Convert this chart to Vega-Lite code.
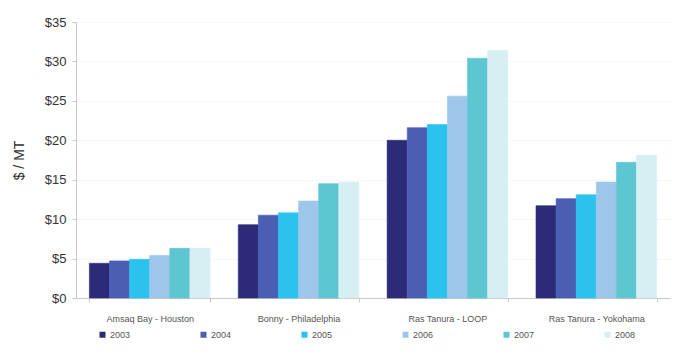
{
  "$schema": "https://vega.github.io/schema/vega-lite/v6.json",
  "width": 594,
  "height": 276,
  "autosize": {"type": "none"},
  "padding": {"left": 76, "top": 22, "right": 13, "bottom": 59},
  "background": "white",
  "config": {"view": {"stroke": null}, "font": "Liberation Sans"},
  "data": {"values": [
    {"route": "Amsaq Bay - Houston", "year": "2003", "cost": 4.4},
    {"route": "Amsaq Bay - Houston", "year": "2004", "cost": 4.7},
    {"route": "Amsaq Bay - Houston", "year": "2005", "cost": 4.9},
    {"route": "Amsaq Bay - Houston", "year": "2006", "cost": 5.4},
    {"route": "Amsaq Bay - Houston", "year": "2007", "cost": 6.3},
    {"route": "Amsaq Bay - Houston", "year": "2008", "cost": 6.3},
    {"route": "Bonny - Philadelphia", "year": "2003", "cost": 9.3},
    {"route": "Bonny - Philadelphia", "year": "2004", "cost": 10.5},
    {"route": "Bonny - Philadelphia", "year": "2005", "cost": 10.8},
    {"route": "Bonny - Philadelphia", "year": "2006", "cost": 12.3},
    {"route": "Bonny - Philadelphia", "year": "2007", "cost": 14.5},
    {"route": "Bonny - Philadelphia", "year": "2008", "cost": 14.7},
    {"route": "Ras Tanura - LOOP", "year": "2003", "cost": 20.0},
    {"route": "Ras Tanura - LOOP", "year": "2004", "cost": 21.6},
    {"route": "Ras Tanura - LOOP", "year": "2005", "cost": 22.0},
    {"route": "Ras Tanura - LOOP", "year": "2006", "cost": 25.6},
    {"route": "Ras Tanura - LOOP", "year": "2007", "cost": 30.4},
    {"route": "Ras Tanura - LOOP", "year": "2008", "cost": 31.4},
    {"route": "Ras Tanura - Yokohama", "year": "2003", "cost": 11.7},
    {"route": "Ras Tanura - Yokohama", "year": "2004", "cost": 12.6},
    {"route": "Ras Tanura - Yokohama", "year": "2005", "cost": 13.1},
    {"route": "Ras Tanura - Yokohama", "year": "2006", "cost": 14.7},
    {"route": "Ras Tanura - Yokohama", "year": "2007", "cost": 17.2},
    {"route": "Ras Tanura - Yokohama", "year": "2008", "cost": 18.1}
  ]},
  "mark": {"type": "bar", "strokeWidth": 0.6},
  "encoding": {
    "x": {
      "field": "route", "type": "nominal", "sort": null,
      "scale": {"paddingInner": 0.19, "paddingOuter": 0.09},
      "axis": {"title": null, "labelAngle": 0, "labelFontSize": 9, "labelColor": "#555", "labelPadding": 12,
               "domainColor": "#c8c8c8", "tickColor": "#c8c8c8", "tickBand": "extent", "tickSize": 4, "grid": false}
    },
    "xOffset": {"field": "year", "type": "nominal", "scale": {"paddingInner": 0}},
    "y": {
      "field": "cost", "type": "quantitative",
      "scale": {"domain": [0, 35]},
      "axis": {"title": "$ / MT", "titleFontSize": 14, "titleFontWeight": "normal", "titleColor": "#333", "titlePadding": 18,
               "values": [0, 5, 10, 15, 20, 25, 30, 35], "labelExpr": "'$' + datum.value",
               "labelFontSize": 13, "labelColor": "#333", "labelPadding": 6,
               "domainColor": "#c8c8c8", "tickColor": "#c8c8c8", "tickSize": 4,
               "gridColor": "#f0f0f0", "gridDash": [2, 2]}
    },
    "color": {
      "field": "year", "type": "nominal",
      "scale": {"domain": ["2003", "2004", "2005", "2006", "2007", "2008"],
                "range": ["#2b2b78", "#4a5fb4", "#2bc3ee", "#9dc6ea", "#5ec6d2", "#d5eff3"]},
      "legend": {"title": null, "orient": "none", "legendX": 22, "legendY": 308, "direction": "horizontal", "columns": 6,
                 "symbolType": "square", "symbolSize": 36, "symbolStrokeWidth": 0, "labelFontSize": 9, "labelColor": "#555",
                 "columnPadding": 68, "labelOffset": 3}
    },
    "stroke": {"field": "year", "type": "nominal", "legend": null,
      "scale": {"domain": ["2003", "2004", "2005", "2006", "2007", "2008"],
                "range": ["#2b2b78", "#4a5fb4", "#2bc3ee", "#9dc6ea", "#5ec6d2", "#d5eff3"]}}
  }
}
